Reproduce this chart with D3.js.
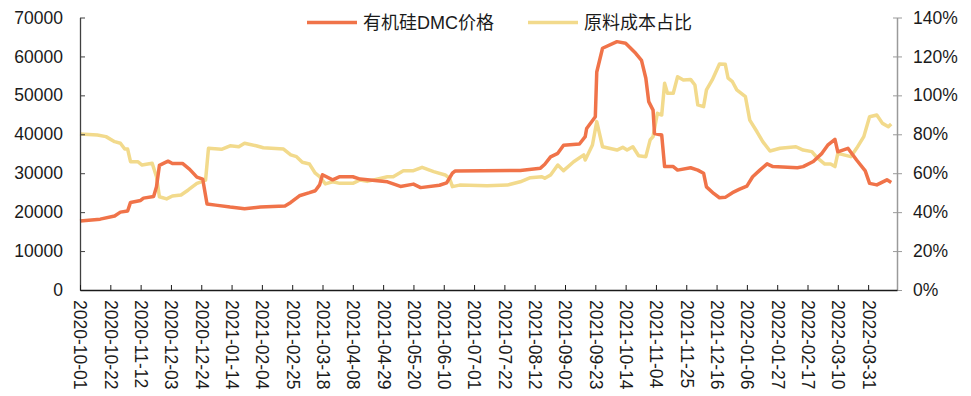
<!DOCTYPE html>
<html><head><meta charset="utf-8">
<script src="https://cdn.jsdelivr.net/npm/d3@7/dist/d3.min.js"></script>
<style>body{margin:0;background:#fff}svg{display:block}text{font-family:Arial,"Liberation Sans","Noto Sans CJK SC",sans-serif}</style>
</head><body><svg id="c" width="971" height="396"></svg>
<script>
// ---- data ----
const seriesNames = ["有机硅DMC价格", "原料成本占比"];
const dmcDates = ["2020-10-01","2020-10-15","2020-10-25","2020-10-29","2020-11-03","2020-11-05","2020-11-12","2020-11-14","2020-11-21","2020-11-23","2020-11-25","2020-12-01","2020-12-04","2020-12-11","2020-12-16","2020-12-21","2020-12-25","2020-12-28","2021-01-03","2021-01-13","2021-01-23","2021-02-03","2021-02-20","2021-02-24","2021-03-02","2021-03-09","2021-03-13","2021-03-16","2021-03-18","2021-03-25","2021-03-30","2021-04-08","2021-04-13","2021-05-02","2021-05-11","2021-05-20","2021-05-25","2021-06-07","2021-06-12","2021-06-16","2021-06-18","2021-08-02","2021-08-16","2021-08-19","2021-08-23","2021-08-28","2021-09-01","2021-09-12","2021-09-16","2021-09-17","2021-09-23","2021-09-24","2021-09-28","2021-10-08","2021-10-14","2021-10-21","2021-10-25","2021-10-28","2021-10-30","2021-11-02","2021-11-03","2021-11-08","2021-11-10","2021-11-16","2021-11-19","2021-11-28","2021-12-03","2021-12-07","2021-12-09","2021-12-14","2021-12-18","2021-12-22","2021-12-27","2022-01-01","2022-01-06","2022-01-10","2022-01-15","2022-01-20","2022-01-24","2022-02-10","2022-02-14","2022-02-21","2022-02-27","2022-03-03","2022-03-08","2022-03-10","2022-03-17","2022-03-23","2022-03-29","2022-04-01","2022-04-06","2022-04-13","2022-04-16"];
const dmcPrice = [17700,18200,19000,20000,20300,22500,23000,23600,24000,26500,32000,33100,32500,32500,31000,29000,28500,22100,21800,21300,20900,21300,21600,22500,24200,25000,25500,27000,29600,28300,29100,29100,28500,27800,26600,27200,26300,26900,27500,30000,30600,30700,31300,32300,34200,35100,37200,37500,39400,41500,44500,56000,62100,63800,63400,60800,59000,54400,48400,46200,40200,39800,31700,31700,30800,31400,30800,30000,26500,24800,23700,23800,25000,25900,26700,29100,30800,32400,31700,31400,31700,33000,35100,37200,38700,35500,36400,33400,30600,27400,27000,28300,27600];
const costDates = ["2020-10-01","2020-10-13","2020-10-19","2020-10-25","2020-10-29","2020-11-01","2020-11-03","2020-11-05","2020-11-10","2020-11-13","2020-11-20","2020-11-23","2020-11-25","2020-11-30","2020-12-04","2020-12-10","2020-12-15","2020-12-21","2020-12-24","2020-12-27","2020-12-29","2021-01-07","2021-01-13","2021-01-19","2021-01-23","2021-01-31","2021-02-05","2021-02-19","2021-02-24","2021-02-28","2021-03-04","2021-03-09","2021-03-13","2021-03-16","2021-03-20","2021-03-25","2021-03-30","2021-04-08","2021-04-13","2021-04-18","2021-05-02","2021-05-06","2021-05-13","2021-05-20","2021-05-26","2021-06-03","2021-06-11","2021-06-14","2021-06-16","2021-06-21","2021-07-10","2021-07-24","2021-08-02","2021-08-09","2021-08-17","2021-08-19","2021-08-23","2021-08-28","2021-09-01","2021-09-08","2021-09-15","2021-09-16","2021-09-21","2021-09-24","2021-09-28","2021-10-08","2021-10-12","2021-10-15","2021-10-19","2021-10-23","2021-10-28","2021-10-31","2021-11-02","2021-11-05","2021-11-08","2021-11-10","2021-11-12","2021-11-16","2021-11-19","2021-11-23","2021-11-28","2021-12-01","2021-12-03","2021-12-07","2021-12-09","2021-12-13","2021-12-18","2021-12-22","2021-12-24","2021-12-27","2021-12-30","2022-01-05","2022-01-08","2022-01-13","2022-01-17","2022-01-22","2022-01-29","2022-02-09","2022-02-14","2022-02-20","2022-02-24","2022-03-01","2022-03-05","2022-03-08","2022-03-10","2022-03-19","2022-03-23","2022-03-28","2022-04-01","2022-04-06","2022-04-10","2022-04-14","2022-04-16"];
const costRatio = [80.2,79.6,78.8,76.2,75.4,72.4,72.4,65.9,65.9,64.2,65.1,58.2,47.9,46.8,48.3,48.8,51.4,54.8,55.6,56.5,72.8,72.3,74.1,73.6,75.4,74.1,73.1,72.4,69.4,68.5,65.6,64.7,60.0,58.2,54.5,55.6,54.8,54.8,56.5,55.8,58.2,58.2,61.3,61.3,63.0,60.8,59.1,57.4,53.1,53.9,53.5,53.9,55.6,57.7,58.2,57.4,59.1,64.2,61.3,65.9,69.4,66.8,74.5,86.5,73.6,71.9,73.3,71.9,73.6,69.0,68.5,77.1,78.8,90.8,89.9,106.2,101.1,101.1,109.6,107.9,108.2,105.3,95.1,94.2,102.8,107.9,116.1,116.0,108.8,107.0,102.8,99.3,87.3,81.3,76.2,71.4,72.8,73.6,71.9,71.1,67.7,64.7,64.7,63.4,70.2,68.5,72.8,78.8,89.0,89.9,85.6,83.9,85.3];
const leftTicks = [0,10000,20000,30000,40000,50000,60000,70000];
const rightTicks = [0,20,40,60,80,100,120,140];
const xTickStart = "2020-10-01", xTickEnd = "2022-03-31", xTickStepDays = 21, xDomainEnd = "2022-04-20";

// ---- layout ----
const parse = d3.timeParse("%Y-%m-%d"), fmt = d3.timeFormat("%Y-%m-%d");
const L = 80, R = 897, T = 17.5, B = 290;
const svg = d3.select("#c");
const x = d3.scaleTime().domain([parse(xTickStart), parse(xDomainEnd)]).range([L, R]);
const yL = d3.scaleLinear().domain([0, 70000]).range([B, T]);
const yR = d3.scaleLinear().domain([0, 140]).range([B, T]);
const red = "#F07349", yellow = "#F2DA8C";
const fs = 17.5;

const xTicks = d3.timeDay.range(parse(xTickStart), d3.timeDay.offset(parse(xTickEnd), 1), xTickStepDays);

// lines
const dmc = dmcDates.map((d, i) => ({ d: parse(d), v: dmcPrice[i] }));
const cost = costDates.map((d, i) => ({ d: parse(d), v: costRatio[i] }));
svg.append("path").datum(cost).attr("fill", "none").attr("stroke", yellow).attr("stroke-width", 3.5)
  .attr("stroke-linejoin", "round").attr("d", d3.line().x(p => x(p.d)).y(p => yR(p.v)));
svg.append("path").datum(dmc).attr("fill", "none").attr("stroke", red).attr("stroke-width", 3.5)
  .attr("stroke-linejoin", "round").attr("d", d3.line().x(p => x(p.d)).y(p => yL(p.v)));

// left axis
const gl = svg.append("g").attr("transform", `translate(${L},0)`)
  .call(d3.axisLeft(yL).tickValues(leftTicks).tickSizeInner(-5).tickSizeOuter(0).tickPadding(17).tickFormat(d3.format("d")));
gl.select(".domain").attr("stroke", "#404040").attr("stroke-width", 1.3);
gl.selectAll(".tick line").attr("stroke", "#404040");
gl.selectAll("text").attr("font-size", fs).attr("fill", "#1a1a1a");

// right axis
const gr = svg.append("g").attr("transform", `translate(${R},0)`)
  .call(d3.axisRight(yR).tickValues(rightTicks).tickSizeInner(5).tickSizeOuter(0).tickPadding(11).tickFormat(d => d + "%"));
gr.select(".domain").attr("stroke", "#9a9a9a").attr("stroke-width", 1.5);
gr.selectAll(".tick line").attr("stroke", "#9a9a9a").attr("x1", -4);
gr.selectAll("text").attr("font-size", fs).attr("fill", "#1a1a1a");

// bottom axis
const gb = svg.append("g").attr("transform", `translate(0,${B})`)
  .call(d3.axisBottom(x).tickValues(xTicks).tickSizeInner(-5).tickSizeOuter(0).tickFormat(fmt));
gb.select(".domain").attr("stroke", "#1a1a1a").attr("stroke-width", 1.3);
gb.selectAll(".tick line").attr("stroke", "#1a1a1a");
gb.selectAll("text").attr("font-size", fs).attr("fill", "#1a1a1a")
  .attr("transform", "rotate(90)").attr("text-anchor", "start").attr("x", 10).attr("y", 0).attr("dy", "0.35em");

// legend
const leg = [{ n: seriesNames[0], c: red, x: 307 }, { n: seriesNames[1], c: yellow, x: 528 }];
const lg = svg.append("g").selectAll("g").data(leg).join("g").attr("transform", d => `translate(${d.x},22.5)`);
lg.append("line").attr("x1", 0).attr("x2", 50).attr("stroke", d => d.c).attr("stroke-width", 3.5);
lg.append("text").attr("x", 56).attr("dy", "0.36em").attr("font-size", 18).attr("fill", "#1a1a1a").text(d => d.n);
</script></body></html>
